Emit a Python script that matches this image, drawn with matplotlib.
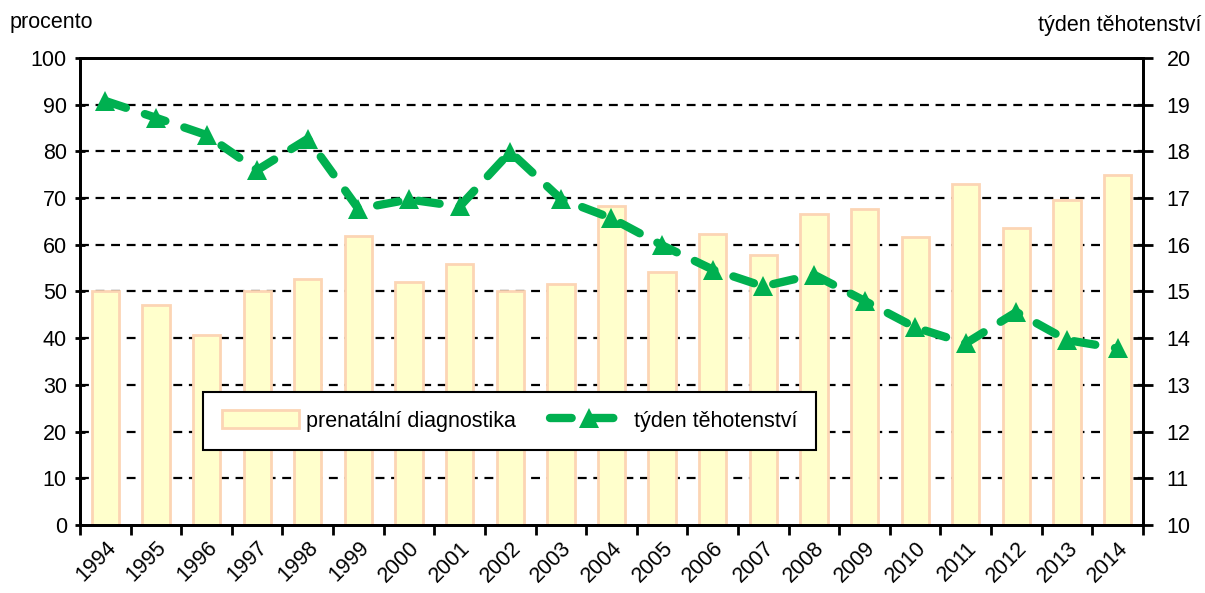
import numpy as np
import matplotlib
matplotlib.use("Agg")
import matplotlib.pyplot as plt

plt.rcParams['font.family'] = ['Liberation Sans', 'DejaVu Sans']

# data
years = ['1994', '1995', '1996', '1997', '1998', '1999', '2000', '2001', '2002', '2003', '2004',
         '2005', '2006', '2007', '2008', '2009', '2010', '2011', '2012', '2013', '2014']
diagnostika = [50.1, 47.1, 40.7, 50.0, 52.7, 61.9, 52.1, 55.9, 50.0, 51.5, 68.3,
               54.2, 62.4, 57.9, 66.7, 67.7, 61.7, 73.0, 63.6, 69.6, 74.9]
tyden = [19.08, 18.72, 18.35, 17.6, 18.27, 16.77, 16.97, 16.82, 17.99, 16.98, 16.57,
         15.99, 15.47, 15.11, 15.36, 14.8, 14.23, 13.89, 14.56, 13.96, 13.78]

x = np.arange(len(years))

fig = plt.figure(figsize=(12.05, 5.93), dpi=100)
ax = fig.add_axes([0.0664, 0.1147, 0.8821, 0.7875])
ax2 = ax.twinx()

# gridlines (behind bars)
for v in range(10, 100, 10):
    ax.axhline(v, color='black', lw=1.6, linestyle=(0, (4, 3)), zorder=0)

ax.bar(x, diagnostika, width=0.54, color='#FFFFCC', edgecolor='#FCD5B4', linewidth=2,
       zorder=2, label='prenatální diagnostika')

ax2.plot(x, tyden, color='#00B050', lw=6, linestyle=(0, (2.6, 2.4)), dash_capstyle='round',
         marker='^', markersize=15, markeredgewidth=0, label='týden těhotenství', zorder=3)

ax.set_xlim(-0.5, len(years) - 0.5)
ax.set_ylim(0, 100)
ax2.set_ylim(10, 20)
ax.set_yticks(range(0, 101, 10))
ax2.set_yticks(range(10, 21, 1))

ax.set_xticks(x)
ax.set_xticklabels(years, rotation=45, ha='right', va='top', rotation_mode='anchor')
ax.set_xticks(np.arange(-0.5, len(years), 1), minor=True)
ax.tick_params(axis='x', which='major', length=0, pad=9, labelsize=15.5)
ax.tick_params(axis='x', which='minor', length=7, width=2, direction='out')
ax.tick_params(axis='y', length=7, width=2, direction='inout', labelsize=15.5, pad=6)
ax2.tick_params(axis='y', length=14, width=2, direction='inout', labelsize=15.5, pad=10)

for a in (ax, ax2):
    for s in a.spines.values():
        s.set_linewidth(2)
        s.set_color('black')

fig.text(0.008, 0.962, 'procento', fontsize=15.5, ha='left', va='center')
fig.text(0.997, 0.957, 'týden těhotenství', fontsize=15.5, ha='right', va='center')

h1, l1 = ax.get_legend_handles_labels()
h2, l2 = ax2.get_legend_handles_labels()
leg = ax2.legend(h1 + h2, l1 + l2, ncol=2, loc='upper left', bbox_to_anchor=(0.116, 0.285),
                 fontsize=15.5, frameon=True, fancybox=False, edgecolor='black',
                 framealpha=1, borderpad=0.85, borderaxespad=0, handlelength=3.6,
                 columnspacing=1.6, handletextpad=0.3, handleheight=0.9)
leg.get_frame().set_linewidth(1.5)

fig.savefig('out.png', dpi=100)
